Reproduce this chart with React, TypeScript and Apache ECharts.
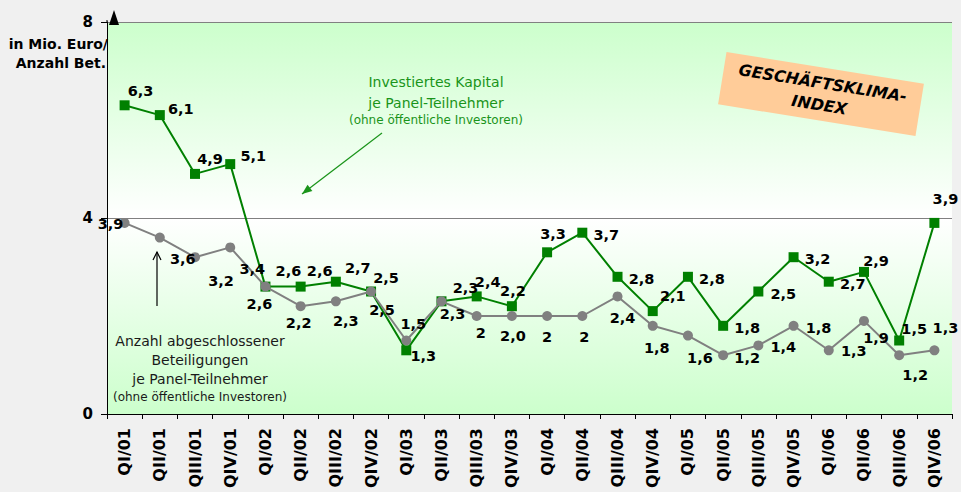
import React, { useEffect, useRef } from "react";
import * as echarts from "echarts";

const categories = [
  "QI/01", "QII/01", "QIII/01", "QIV/01",
  "QI/02", "QII/02", "QIII/02", "QIV/02",
  "QI/03", "QII/03", "QIII/03", "QIV/03",
  "QI/04", "QII/04", "QIII/04", "QIV/04",
  "QI/05", "QII/05", "QIII/05", "QIV/05",
  "QI/06", "QII/06", "QIII/06", "QIV/06",
];

// Investiertes Kapital je Panel-Teilnehmer (Mio. Euro)
const kapitalValues = [
  6.3, 6.1, 4.9, 5.1, 2.6, 2.6, 2.7, 2.5, 1.3, 2.3, 2.4, 2.2,
  3.3, 3.7, 2.8, 2.1, 2.8, 1.8, 2.5, 3.2, 2.7, 2.9, 1.5, 3.9,
];
const kapitalLabels = [
  "6,3", "6,1", "4,9", "5,1", "2,6", "2,6", "2,7", "2,5", "1,3", "2,3", "2,4", "2,2",
  "3,3", "3,7", "2,8", "2,1", "2,8", "1,8", "2,5", "3,2", "2,7", "2,9", "1,5", "3,9",
];

// Anzahl abgeschlossener Beteiligungen je Panel-Teilnehmer
const anzahlValues = [
  3.9, 3.6, 3.2, 3.4, 2.6, 2.2, 2.3, 2.5, 1.5, 2.3, 2.0, 2.0,
  2.0, 2.0, 2.4, 1.8, 1.6, 1.2, 1.4, 1.8, 1.3, 1.9, 1.2, 1.3,
];
const anzahlLabels = [
  "3,9", "3,6", "3,2", "3,4", "2,6", "2,2", "2,3", "2,5", "1,5", "2,3", "2", "2,0",
  "2", "2", "2,4", "1,8", "1,6", "1,2", "1,4", "1,8", "1,3", "1,9", "1,2", "1,3",
];

const yTickLabels = ["0", "4", "8"];

// label placement (layout only)
const kapitalLabelOffsets = [
  [16, -14], [21, -6], [15, -15], [23, -8], [23, -16], [19, -16], [22, -14], [15, -14],
  [17, 6], [24, -13], [11, -14], [1, -15], [6, -18], [24, 2], [24, 2], [20, -15],
  [24, 2], [24, 2], [25, 2], [24, 2], [24, 2], [12, -11], [15, -12], [11, -24],
];
const anzahlLabelOffsets = [
  [-14, 1], [23, 21], [26, 24], [22, 22], [-6, 17], [-2, 17], [10, 20], [11, 18],
  [7, -17], [11, 13], [4, 17], [1, 20], [0, 21], [2, 21], [5, 22], [4, 22],
  [12, 22], [24, 3], [25, 2], [25, 2], [25, 1], [12, 17], [16, 20], [11, -22],
];

const FONT = "'DejaVu Sans', Verdana, sans-serif";

function arrowHead(x1: number, y1: number, x2: number, y2: number, len: number, half: number) {
  const dx = x2 - x1;
  const dy = y2 - y1;
  const l = Math.sqrt(dx * dx + dy * dy);
  const ux = dx / l;
  const uy = dy / l;
  const bx = x2 - ux * len;
  const by = y2 - uy * len;
  const px = -uy * half;
  const py = ux * half;
  return [
    [bx + px, by + py],
    [x2, y2],
    [bx - px, by - py],
  ];
}

function textEl(text: string, x: number, y: number, size: number, color: string, extra: any = {}) {
  return {
    type: "text",
    x,
    y,
    z: 100,
    style: {
      text,
      fill: color,
      fontSize: size,
      fontFamily: FONT,
      align: "center",
      verticalAlign: "middle",
      ...extra,
    },
  };
}

export default function App() {
  const ref = useRef<HTMLDivElement>(null);

  useEffect(() => {
    if (!ref.current) return;
    const chart = echarts.init(ref.current, undefined, { renderer: "svg" });

    const green = "#008000";
    const grey = "#808080";
    const annGreen = "#1a941a";

    const labelBase = {
      show: true,
      position: "inside",
      fontSize: 14.5,
      fontWeight: "bold",
      fontFamily: FONT,
      color: "#000",
    };

    const greenArrow = { x1: 382, y1: 133, x2: 302, y2: 194 };
    const blackArrow = { x1: 157, y1: 306, x2: 157, y2: 252 };

    const option: any = {
      animation: false,
      backgroundColor: "#f0f0f0",
      textStyle: { fontFamily: FONT },
      grid: {
        left: 107,
        right: 9,
        top: 22,
        bottom: 78,
        show: true,
        borderWidth: 0,
        backgroundColor: new echarts.graphic.LinearGradient(0, 0, 0, 1, [
          { offset: 0, color: "#ccffcc" },
          { offset: 0.5, color: "#ffffff" },
          { offset: 1, color: "#ccffcc" },
        ]),
      },
      xAxis: {
        type: "category",
        data: categories,
        boundaryGap: true,
        axisLine: { lineStyle: { color: "#000", width: 1 } },
        axisTick: { show: true, length: 5, lineStyle: { color: "#000" } },
        axisLabel: {
          rotate: 90,
          interval: 0,
          margin: 14,
          fontSize: 16,
          fontWeight: "bold",
          fontFamily: FONT,
          color: "#000",
        },
        splitLine: { show: false },
      },
      yAxis: {
        type: "value",
        min: 0,
        max: 8,
        interval: 4,
        axisLine: { show: true, lineStyle: { color: "#000", width: 1 } },
        axisTick: { show: true, length: 6, lineStyle: { color: "#000" } },
        axisLabel: {
          margin: 14,
          fontSize: 15,
          fontWeight: "bold",
          fontFamily: FONT,
          color: "#000",
          formatter: (v: number) => yTickLabels[Math.round(v / 4)] ?? String(v),
        },
        splitLine: { show: true, lineStyle: { color: grey, width: 1 } },
      },
      series: [
        {
          name: "Investiertes Kapital",
          type: "line",
          symbol: "rect",
          symbolSize: 10,
          lineStyle: { color: green, width: 2 },
          itemStyle: { color: green },
          z: 3,
          label: { ...labelBase, formatter: (p: any) => kapitalLabels[p.dataIndex] },
          data: kapitalValues.map((v, i) => ({
            value: v,
            label: { offset: kapitalLabelOffsets[i] },
          })),
        },
        {
          name: "Anzahl Beteiligungen",
          type: "line",
          symbol: "circle",
          symbolSize: 10,
          lineStyle: { color: grey, width: 2 },
          itemStyle: { color: grey },
          z: 4,
          label: { ...labelBase, formatter: (p: any) => anzahlLabels[p.dataIndex] },
          data: anzahlValues.map((v, i) => ({
            value: v,
            label: { offset: anzahlLabelOffsets[i] },
          })),
        },
      ],
      graphic: [
        // y-axis arrow
        {
          type: "polygon",
          z: 100,
          shape: { points: [[109, 25], [119, 25], [114, 10]] },
          style: { fill: "#000" },
        },
        {
          type: "line",
          z: 100,
          shape: { x1: 107, y1: 22, x2: 107, y2: 20 },
          style: { stroke: "#000", lineWidth: 1 },
        },
        // y-axis name
        {
          type: "text",
          x: 108,
          y: 44,
          z: 100,
          style: {
            text: "in Mio. Euro/",
            fill: "#000",
            fontSize: 14,
            fontWeight: "bold",
            fontFamily: FONT,
            align: "right",
            verticalAlign: "middle",
          },
        },
        {
          type: "text",
          x: 106,
          y: 63,
          z: 100,
          style: {
            text: "Anzahl Bet.",
            fill: "#000",
            fontSize: 14,
            fontWeight: "bold",
            fontFamily: FONT,
            align: "right",
            verticalAlign: "middle",
          },
        },
        // green annotation
        textEl("Investiertes Kapital", 436, 82, 14, annGreen),
        textEl("je Panel-Teilnehmer", 436, 103, 14, annGreen),
        textEl("(ohne öffentliche Investoren)", 436, 120, 12, annGreen),
        {
          type: "line",
          z: 100,
          shape: greenArrow,
          style: { stroke: annGreen, lineWidth: 1.2 },
        },
        {
          type: "polygon",
          z: 100,
          shape: {
            points: arrowHead(greenArrow.x1, greenArrow.y1, greenArrow.x2, greenArrow.y2, 10, 4),
          },
          style: { fill: annGreen },
        },
        // grey annotation
        textEl("Anzahl abgeschlossener", 200, 341, 14, "#1a1a1a"),
        textEl("Beteiligungen", 200, 360, 14, "#1a1a1a"),
        textEl("je Panel-Teilnehmer", 200, 379, 14, "#1a1a1a"),
        textEl("(ohne öffentliche Investoren)", 200, 397, 12, "#1a1a1a"),
        {
          type: "line",
          z: 100,
          shape: blackArrow,
          style: { stroke: "#000", lineWidth: 1.2 },
        },
        {
          type: "polyline",
          z: 100,
          shape: {
            points: arrowHead(blackArrow.x1, blackArrow.y1, blackArrow.x2, blackArrow.y2, 8, 4),
          },
          style: { stroke: "#000", lineWidth: 1.2, fill: null },
        },
        // Geschäftsklima-Index box
        {
          type: "group",
          x: 821,
          y: 94,
          rotation: -0.16,
          z: 100,
          children: [
            {
              type: "rect",
              shape: { x: -100, y: -26.5, width: 200, height: 53 },
              style: { fill: "#ffcc99" },
            },
            {
              type: "text",
              x: 0,
              y: -11,
              style: {
                text: "GESCHÄFTSKLIMA-",
                fill: "#000",
                fontSize: 16,
                fontWeight: "bold",
                fontStyle: "italic",
                fontFamily: FONT,
                align: "center",
                verticalAlign: "middle",
              },
            },
            {
              type: "text",
              x: 0,
              y: 11,
              style: {
                text: "INDEX",
                fill: "#000",
                fontSize: 16,
                fontWeight: "bold",
                fontStyle: "italic",
                fontFamily: FONT,
                align: "center",
                verticalAlign: "middle",
              },
            },
          ],
        },
      ],
    };

    chart.setOption(option);
    return () => chart.dispose();
  }, []);

  return (
    <div
      ref={ref}
      style={{ position: "absolute", left: 0, top: 0, width: 961, height: 492 }}
    />
  );
}
